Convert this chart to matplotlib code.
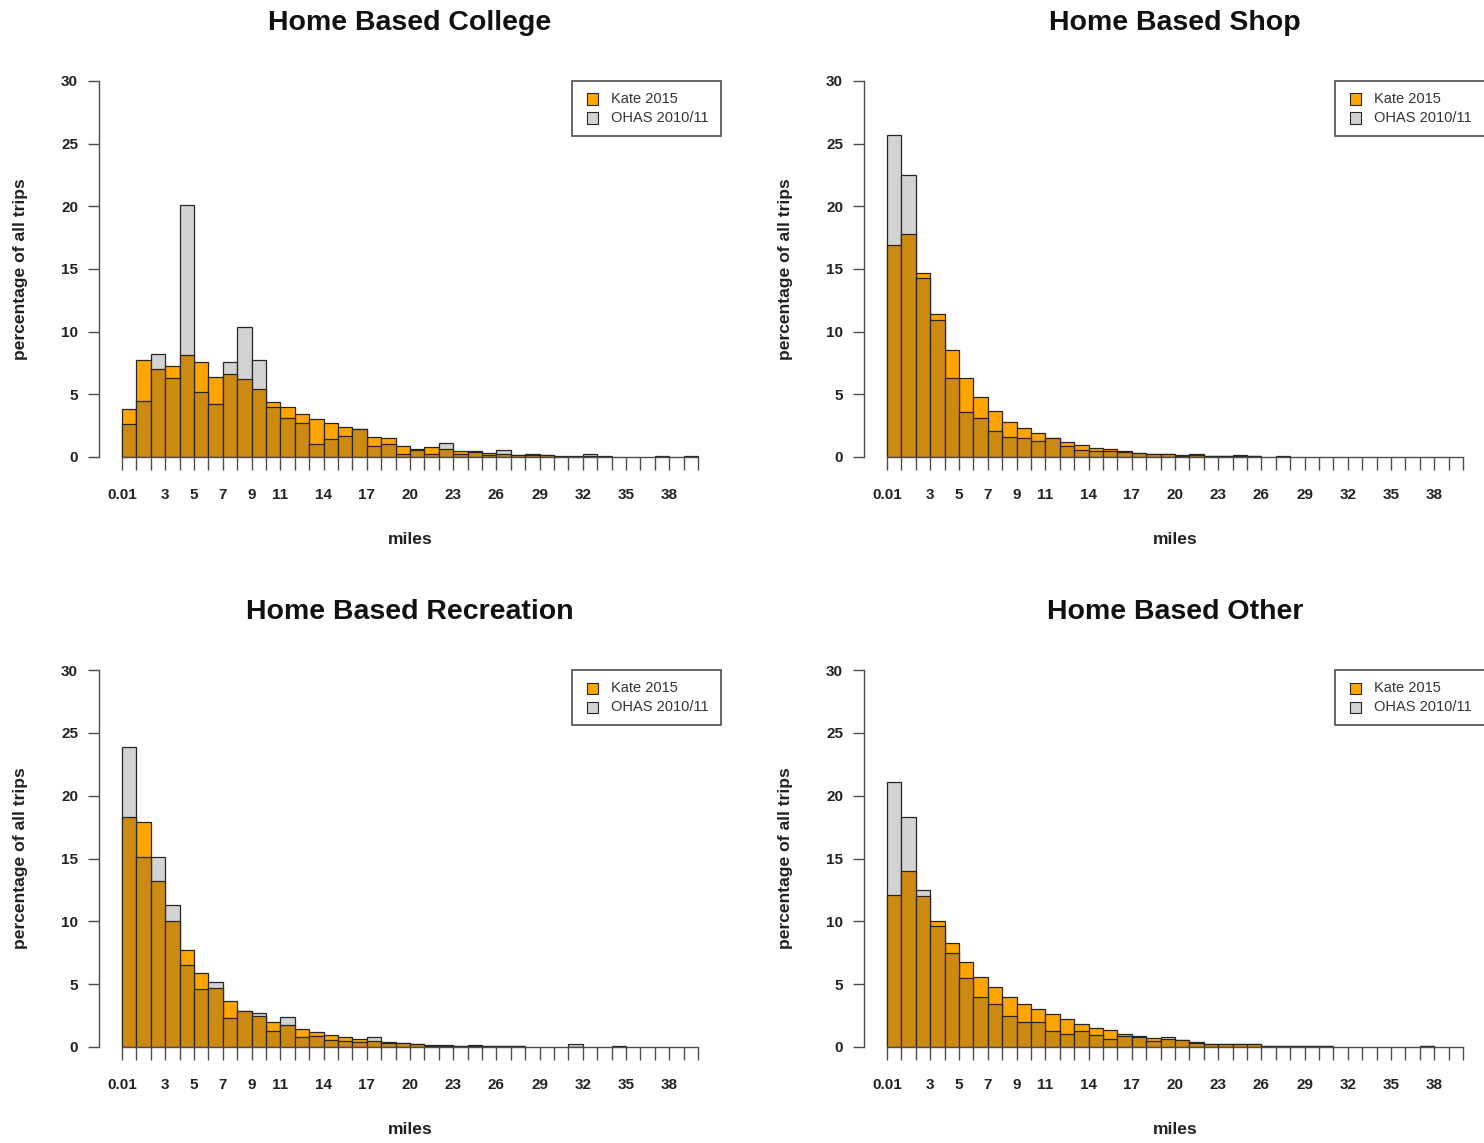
import numpy as np
import matplotlib
matplotlib.use('Agg')
import matplotlib.pyplot as plt
from matplotlib.patches import Rectangle

plt.rcParams['font.family'] = ['Liberation Sans', 'DejaVu Sans']

# bin index 0..39, one mile per bin
tick_pos = [0, 3, 5, 7, 9, 11, 14, 17, 20, 23, 26, 29, 32, 35, 38]
tick_txt = ['0.01', '3', '5', '7', '9', '11', '14', '17', '20', '23', '26', '29', '32', '35', '38']
series_names = ['Kate 2015', 'OHAS 2010/11']

titles = ['Home Based College', 'Home Based Shop', 'Home Based Recreation', 'Home Based Other']

college_kate = [3.8, 7.7, 7.0, 7.3, 8.1, 7.6, 6.4, 6.6, 6.2, 5.4, 4.4, 4.0, 3.4, 3.0, 2.7, 2.4, 2.2, 1.6, 1.5, 0.9,
                0.65, 0.8, 0.6, 0.5, 0.45, 0.3, 0.2, 0.15, 0.27, 0.15, 0.03, 0.03, 0.05, 0.03, 0, 0, 0, 0.03, 0, 0.03]
college_ohas = [2.6, 4.5, 8.2, 6.3, 20.1, 5.2, 4.2, 7.6, 10.4, 7.7, 4.0, 3.1, 2.7, 1.0, 1.45, 1.7, 2.25, 0.85, 1.0, 0.25,
                0.58, 0.27, 1.15, 0.22, 0.4, 0.15, 0.55, 0.12, 0.15, 0.12, 0.05, 0.05, 0.27, 0.05, 0, 0, 0, 0.05, 0, 0.05]

shop_kate = [16.9, 17.8, 14.7, 11.4, 8.5, 6.3, 4.8, 3.7, 2.8, 2.3, 1.9, 1.55, 1.2, 0.93, 0.75, 0.6, 0.42, 0.35, 0.27, 0.27,
             0.13, 0.13, 0.05, 0.05, 0.1, 0.05, 0, 0.03, 0, 0, 0, 0, 0, 0, 0, 0, 0, 0, 0, 0]
shop_ohas = [25.7, 22.5, 14.3, 10.9, 6.3, 3.6, 3.1, 2.1, 1.6, 1.5, 1.3, 1.5, 0.9, 0.56, 0.5, 0.45, 0.45, 0.3, 0.25, 0.25,
             0.1, 0.27, 0.05, 0.05, 0.16, 0.05, 0, 0.05, 0, 0, 0, 0, 0, 0, 0, 0, 0, 0, 0, 0]

rec_kate = [18.3, 17.9, 13.2, 10.0, 7.7, 5.9, 4.7, 3.7, 2.9, 2.45, 2.0, 1.75, 1.45, 1.2, 0.95, 0.78, 0.67, 0.5, 0.35, 0.35,
            0.27, 0.16, 0.08, 0.06, 0.08, 0.08, 0.08, 0.08, 0, 0, 0, 0.03, 0, 0, 0.03, 0, 0, 0, 0, 0]
rec_ohas = [23.9, 15.1, 15.1, 11.3, 6.5, 4.6, 5.2, 2.3, 2.85, 2.7, 1.3, 2.4, 0.8, 0.85, 0.58, 0.5, 0.43, 0.77, 0.37, 0.3,
            0.22, 0.1, 0.16, 0.08, 0.19, 0.05, 0.06, 0.06, 0, 0, 0, 0.21, 0, 0, 0.08, 0, 0, 0, 0, 0]

other_kate = [12.1, 14.0, 12.0, 10.0, 8.3, 6.8, 5.6, 4.75, 3.95, 3.4, 3.0, 2.6, 2.2, 1.85, 1.5, 1.35, 1.0, 0.8, 0.72, 0.6,
              0.55, 0.35, 0.27, 0.2, 0.27, 0.27, 0.05, 0.05, 0.05, 0.05, 0.05, 0, 0, 0, 0, 0, 0, 0.05, 0, 0]
other_ohas = [21.1, 18.3, 12.5, 9.6, 7.5, 5.5, 4.0, 3.4, 2.5, 1.95, 1.95, 1.3, 1.0, 1.25, 0.93, 0.65, 0.9, 0.85, 0.5, 0.8,
              0.58, 0.4, 0.2, 0.27, 0.2, 0.2, 0.08, 0.08, 0.08, 0.08, 0.08, 0, 0, 0, 0, 0, 0, 0.1, 0, 0]

kate = [college_kate, shop_kate, rec_kate, other_kate]
ohas = [college_ohas, shop_ohas, rec_ohas, other_ohas]

ORANGE = '#FFA500'
GRAY = '#D3D3D3'
BOTH = '#CD8A12'
EDGE = '#262626'
AXC = '#4d4d4d'

W, H = 1484, 1143
fig = plt.figure(figsize=(W / 100, H / 100), dpi=100)

# axes boxes in pixels: left, top, right, bottom
boxes = [(99, 81, 721, 457), (864, 81, 1486, 457),
         (99, 670, 721, 1047), (864, 670, 1486, 1047)]

for k, (l, t, r, b) in enumerate(boxes):
    ax = fig.add_axes([l / W, (H - b) / H, (r - l) / W, (b - t) / H])
    a = np.array(kate[k])
    o = np.array(ohas[k])
    x = np.arange(len(a))
    hi = np.maximum(a, o)
    lo = np.minimum(a, o)
    hi_col = [ORANGE if ai >= oi else GRAY for ai, oi in zip(a, o)]
    m = hi > 0
    ax.bar(x[m], hi[m], width=1, align='edge', color=np.array(hi_col)[m],
           edgecolor=EDGE, linewidth=0.9)
    m2 = lo > 0
    ax.bar(x[m2], lo[m2], width=1, align='edge', color=BOTH,
           edgecolor=EDGE, linewidth=0.9)

    ax.set_xlim(-1.6, 41.6)
    ax.set_ylim(0, 30)
    for s in ['top', 'right']:
        ax.spines[s].set_visible(False)
    ax.spines['left'].set_bounds(0, 30)
    ax.spines['bottom'].set_bounds(0, 40)
    for s in ['left', 'bottom']:
        ax.spines[s].set_color(AXC)
        ax.spines[s].set_linewidth(1.0)

    ax.set_yticks(range(0, 31, 5))
    ax.set_yticklabels([str(v) for v in range(0, 31, 5)])
    ax.set_xticks(range(0, 41))
    labs = [''] * 41
    for p, s in zip(tick_pos, tick_txt):
        labs[p] = s
    ax.set_xticklabels(labs)
    ax.tick_params(axis='y', direction='out', length=8, width=1, color=AXC, pad=7,
                   labelsize=11)
    ax.tick_params(axis='x', direction='out', length=9, width=1, color=AXC, pad=13,
                   labelsize=11)
    for lab in ax.get_xticklabels() + ax.get_yticklabels():
        lab.set_fontweight('bold')
        lab.set_color('#222222')

    ax.text(0.5, 1.155, titles[k], transform=ax.transAxes, ha='center', va='center',
            fontsize=20.5, fontweight='bold', color='#111111')
    ax.text(0.5, -0.22, 'miles', transform=ax.transAxes, ha='center', va='center',
            fontsize=12.6, fontweight='bold', color='#222222')
    ax.text(-0.127, 0.5, 'percentage of all trips', transform=ax.transAxes, ha='center',
            va='center', rotation=90, fontsize=12.6, fontweight='bold', color='#222222')

    # legend box, drawn R style
    lw_px = r - l
    lh_px = b - t
    x0 = (1335 - 864) / 622 if k % 2 else (572 - 99) / 622
    y0 = (457 - 136) / 376
    ax.add_patch(Rectangle((x0, y0), 1.0 - x0, 1.0 - y0, transform=ax.transAxes,
                           facecolor='white', edgecolor=AXC, linewidth=1.2, clip_on=False, zorder=5))
    sq_w = 11 / lw_px
    sq_h = 11 / lh_px
    for j, (name, col) in enumerate(zip(series_names, [ORANGE, GRAY])):
        yc = (457 - (99 + 19 * j)) / 376
        xs = x0 + 15 / lw_px
        ax.add_patch(Rectangle((xs, yc - sq_h / 2), sq_w, sq_h, transform=ax.transAxes,
                               facecolor=col, edgecolor=EDGE, linewidth=0.8, clip_on=False, zorder=6))
        ax.text(x0 + 39 / lw_px, yc, name, transform=ax.transAxes, ha='left', va='center',
                fontsize=10.5, color='#333333', zorder=7)

fig.savefig('out.png', dpi=100)
